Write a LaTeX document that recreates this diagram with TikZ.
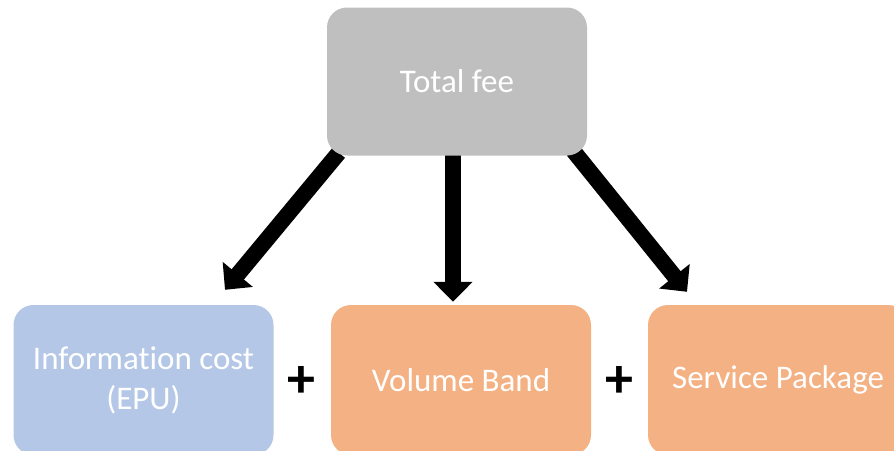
\documentclass[tikz,border=0pt]{standalone}
\usepackage{fontspec}
\setmainfont{Carlito}[Ligatures=NoCommon]
\usetikzlibrary{arrows.meta,positioning,backgrounds}

\definecolor{feegray}{HTML}{BFBFBF}
\definecolor{costblue}{HTML}{B4C7E7}
\definecolor{bandorange}{HTML}{F4B183}

\begin{document}
\begin{tikzpicture}[x=1pt,y=-1pt,
  box/.style={rounded corners=20pt, minimum width=260pt, minimum height=148pt,
    text=white, align=center, font=\fontsize{33}{40}\selectfont, inner sep=0pt},
  plus/.style={font=\fontsize{56}{56}\selectfont\bfseries},
  arr/.style={line width=16pt, -{Triangle[width=38pt,length=20pt]}}]
\useasboundingbox (0,0) rectangle (894,450);

% Boxes
\node[box, fill=feegray] (total) at (457,81.5) {Total fee};
\node[box, fill=costblue, minimum height=150pt] (info) at (143.5,380) {Information cost\\(EPU)};
\node[box, fill=bandorange, minimum height=150pt] (volume) at (461,380) {Volume Band};
\node[box, fill=bandorange, minimum height=150pt] (service) at (778,380) {Service Package};

% Plus signs
\node[plus] (plusa) at (301,382) {+};
\node[plus] (plusb) at (619,382) {+};

% Arrows
\begin{scope}[on background layer]
\draw[arr] ([xshift=12pt,yshift=3pt]total.south west) -- ([xshift=81.5pt,yshift=15pt]info.north);
\draw[arr] ([xshift=-4pt,yshift=2pt]total.south) -- ([xshift=-8pt,yshift=3pt]volume.north);
\draw[arr] ([xshift=-14pt,yshift=5pt]total.south east) -- ([xshift=-91pt,yshift=13pt]service.north);
\end{scope}

\end{tikzpicture}
\end{document}
